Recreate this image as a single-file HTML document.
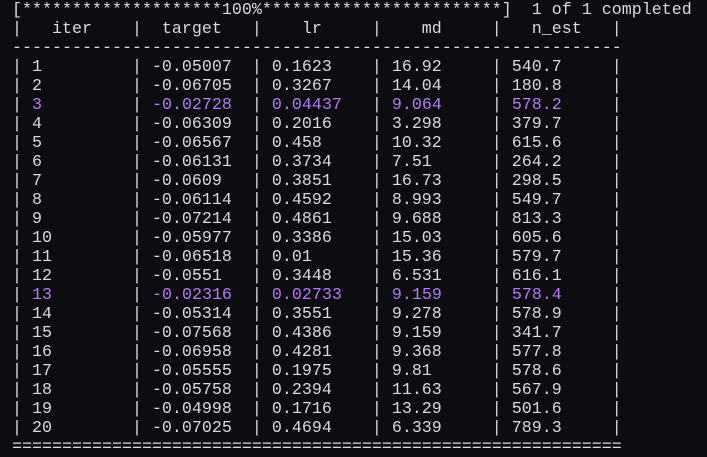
<!DOCTYPE html>
<html><head><meta charset="utf-8"><style>
html,body{margin:0;padding:0;background:#0c0c11;width:707px;height:457px;overflow:hidden}
pre{margin:0;position:absolute;left:12px;top:1px;font-family:"Liberation Mono","DejaVu Sans Mono",monospace;font-size:16.67px;line-height:19px;color:#dadada;white-space:pre}
.p{color:#b27cf2}
</style></head><body>
<pre><span>[********************100%************************]  1 of 1 completed</span>
<span>|   iter    |  target   |    lr     |    md     |   n_est   |</span>
-------------------------------------------------------------
| 1         | -0.05007  | 0.1623    | 16.92     | 540.7     |
| 2         | -0.06705  | 0.3267    | 14.04     | 180.8     |
| <span class="p">3</span>         | <span class="p">-0.02728</span>  | <span class="p">0.04437</span>   | <span class="p">9.064</span>     | <span class="p">578.2</span>     |
| 4         | -0.06309  | 0.2016    | 3.298     | 379.7     |
| 5         | -0.06567  | 0.458     | 10.32     | 615.6     |
| 6         | -0.06131  | 0.3734    | 7.51      | 264.2     |
| 7         | -0.0609   | 0.3851    | 16.73     | 298.5     |
| 8         | -0.06114  | 0.4592    | 8.993     | 549.7     |
| 9         | -0.07214  | 0.4861    | 9.688     | 813.3     |
| 10        | -0.05977  | 0.3386    | 15.03     | 605.6     |
| 11        | -0.06518  | 0.01      | 15.36     | 579.7     |
| 12        | -0.0551   | 0.3448    | 6.531     | 616.1     |
| <span class="p">13</span>        | <span class="p">-0.02316</span>  | <span class="p">0.02733</span>   | <span class="p">9.159</span>     | <span class="p">578.4</span>     |
| 14        | -0.05314  | 0.3551    | 9.278     | 578.9     |
| 15        | -0.07568  | 0.4386    | 9.159     | 341.7     |
| 16        | -0.06958  | 0.4281    | 9.368     | 577.8     |
| 17        | -0.05555  | 0.1975    | 9.81      | 578.6     |
| 18        | -0.05758  | 0.2394    | 11.63     | 567.9     |
| 19        | -0.04998  | 0.1716    | 13.29     | 501.6     |
| 20        | -0.07025  | 0.4694    | 6.339     | 789.3     |
=============================================================</pre>
</body></html>
